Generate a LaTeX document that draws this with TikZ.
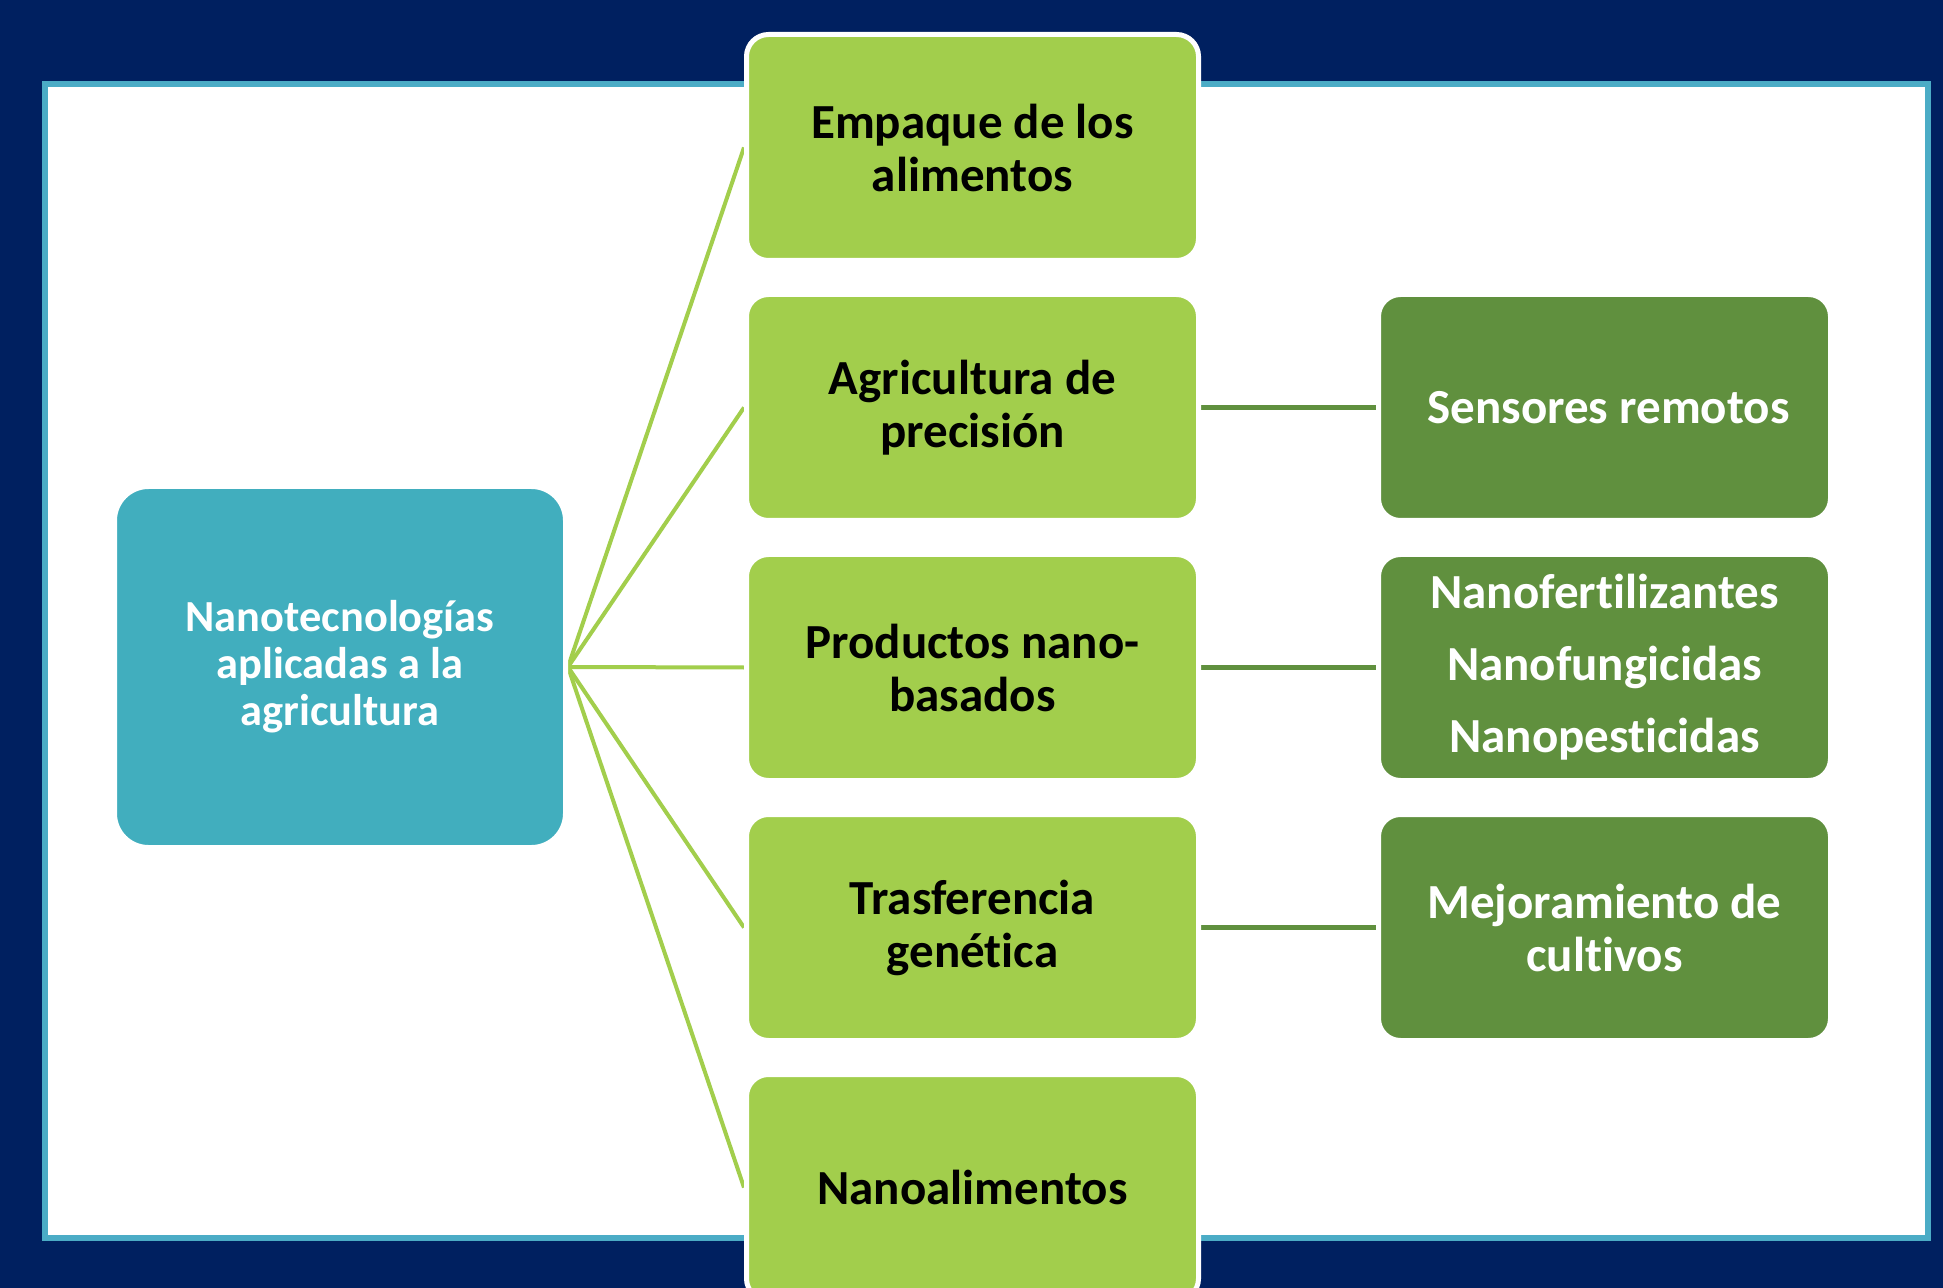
\documentclass[tikz,border=0pt]{standalone}
\usepackage{fontspec}
\setmainfont{Carlito}[Ligatures=NoCommon]
\usetikzlibrary{positioning}
\definecolor{navy}{RGB}{0,32,96}
\definecolor{panelteal}{RGB}{75,172,198}
\definecolor{hubteal}{RGB}{65,174,190}
\definecolor{lgreen}{RGB}{162,206,76}
\definecolor{dgreen}{RGB}{96,144,62}
\pgfdeclarelayer{bg}
\pgfdeclarelayer{conn}
\pgfsetlayers{bg,conn,main}
\begin{document}
\begin{tikzpicture}[x=0.5pt,y=-0.5pt,
  boxbase/.style={draw=white,line width=2.5pt,rounded corners=11pt,align=center,
    minimum width=226pt,minimum height=113pt,inner sep=0pt,font=\bfseries\fontsize{24.5pt}{26.5pt}\selectfont},
  lbox/.style={boxbase,fill=lgreen,text=black},
  dbox/.style={boxbase,fill=dgreen,text=white},
  hub/.style={draw=white,line width=2.5pt,rounded corners=17pt,align=center,fill=hubteal,text=white,
    minimum width=225.5pt,minimum height=180.5pt,inner sep=0pt,font=\bfseries\fontsize{22.2pt}{23.5pt}\selectfont},
  lconn/.style={draw=lgreen,line width=2pt},
  dconn/.style={draw=dgreen,line width=2.5pt}]
\useasboundingbox (0,0) rectangle (1943,1288);
\clip (0,0) rectangle (1943,1288);
\begin{pgfonlayer}{bg}
\fill[navy] (0,0) rectangle (1943,1288);
\draw[panelteal,line width=3pt,fill=white] (45,84.5) rectangle (1927.5,1237.5);
\end{pgfonlayer}

\node[hub] (c) at (340,667) {Nanotecnologías\\aplicadas a la\\agricultura};

\node[lbox] (g1) at (972.5,147.5) {Empaque de los\\alimentos};
\node[lbox] (g2) at (972.5,407.5) {Agricultura de\\precisión};
\node[lbox] (g3) at (972.5,667.5) {Productos nano-\\basados};
\node[lbox] (g4) at (972.5,927.5) {Trasferencia\\genética};
\node[lbox] (g5) at (972.5,1187.5) {Nanoalimentos};

\node[dbox] (d2) at (1604.5,407.5) {\hspace*{4pt}Sensores remotos};
\node[dbox,font=\bfseries\fontsize{24.5pt}{36pt}\selectfont] (d3) at (1604.5,667.5) {Nanofertilizantes\\Nanofungicidas\\Nanopesticidas};
\node[dbox] (d4) at (1604.5,927.5) {Mejoramiento de\\cultivos};

\begin{pgfonlayer}{conn}
\foreach \g in {g1,g2,g3,g4,g5} \draw[lconn] (c.east) -- (\g.west);
\draw[dconn] (g2.east) -- (d2.west);
\draw[dconn] (g3.east) -- (d3.west);
\draw[dconn] (g4.east) -- (d4.west);
\end{pgfonlayer}
\end{tikzpicture}
\end{document}
